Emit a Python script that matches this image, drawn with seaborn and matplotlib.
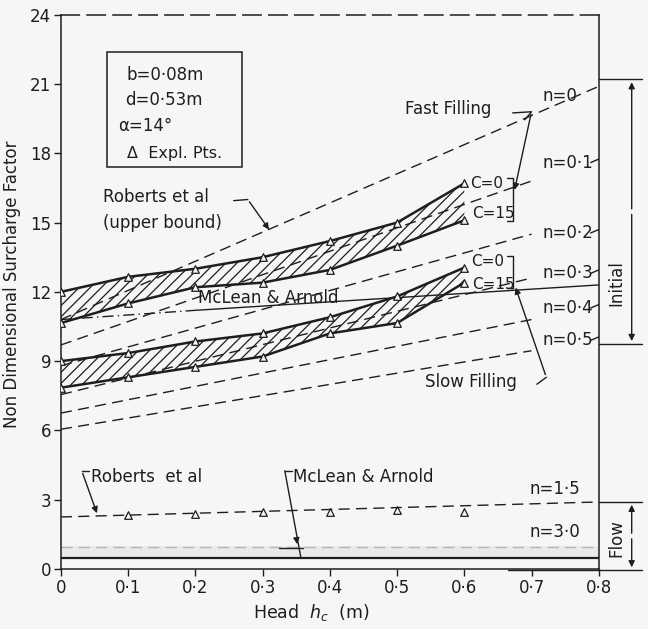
import numpy as np
import pandas as pd
import matplotlib
matplotlib.use("Agg")
import matplotlib.pyplot as plt
import seaborn as sns
from matplotlib.patches import Rectangle

# values
head = [0.0, 0.1, 0.2, 0.3, 0.4, 0.5, 0.6]
fast_c0 = [12.0, 12.65, 13.0, 13.5, 14.2, 15.0, 16.7]
fast_c15 = [10.65, 11.5, 12.2, 12.4, 12.95, 14.0, 15.1]
slow_c0 = [9.0, 9.35, 9.85, 10.2, 10.9, 11.8, 13.05]
slow_c15 = [7.85, 8.3, 8.75, 9.2, 10.2, 10.65, 12.4]

n_labels = ["n=0", "n=0·1", "n=0·2", "n=0·3", "n=0·4", "n=0·5"]
n_x_end = [0.8, 0.7, 0.7, 0.7, 0.7, 0.7]
n_y_start = [10.8, 9.7, 8.8, 7.55, 6.75, 6.05]
n_y_end = [20.9, 16.8, 14.5, 12.6, 10.8, 9.45]
n_label_y = [20.5, 17.6, 14.55, 12.8, 11.3, 9.9]

mclean_x = [0.0, 0.2, 0.8]
mclean_y = [10.8, 11.2, 12.3]

flow_x = [0.0, 0.8]
n15_y = [2.25, 2.9]
n30_y = [0.97, 0.97]
flow_base_y = [0.48, 0.48]
flow_pts_x = [0.1, 0.2, 0.3, 0.4, 0.5, 0.6]
flow_pts_y = [2.35, 2.38, 2.47, 2.47, 2.55, 2.45]

x_ticks = [0, 0.1, 0.2, 0.3, 0.4, 0.5, 0.6, 0.7, 0.8]
x_tick_labels = ["0", "0·1", "0·2", "0·3", "0·4", "0·5", "0·6", "0·7", "0·8"]
y_ticks = [0, 3, 6, 9, 12, 15, 18, 21, 24]

ink = "#1e1e1e"
bg = "#f6f6f6"

sns.set_theme(style="white")
plt.rcParams["font.family"] = ["DejaVu Sans"]
plt.rcParams["hatch.linewidth"] = 0.9
plt.rcParams["hatch.color"] = ink

fig = plt.figure(figsize=(6.48, 6.29), dpi=100, facecolor=bg)
ax = fig.add_axes([0.094, 0.0955, 0.830, 0.881])
ax.set_facecolor(bg)

dash = (0, (8, 4.5))

# initial surcharge lines
for lab, xe, y0, y1, ly in zip(n_labels, n_x_end, n_y_start, n_y_end, n_label_y):
    sns.lineplot(x=[0.0, xe], y=[y0, y1], ax=ax, color=ink, lw=1.0, linestyle=dash)
    ax.text(0.717, ly, lab, fontsize=12, color=ink, va="center", ha="left")
    if lab != "n=0":
        ax.plot([0.788, 0.8], [ly, ly + 0.15], color=ink, lw=1.0)

sns.lineplot(x=mclean_x[:2], y=mclean_y[:2], ax=ax, color=ink, lw=1.0, linestyle=(0, (8, 3, 1, 3)))
sns.lineplot(x=mclean_x[1:], y=mclean_y[1:], ax=ax, color=ink, lw=1.0)

# hatched experimental bands
bands = [(fast_c0, fast_c15), (slow_c0, slow_c15)]
for top, bot in bands:
    ax.fill_between(head, bot, top, facecolor="none", edgecolor=ink, hatch="///", lw=0)
    for s in (top, bot):
        sns.lineplot(x=head, y=s, ax=ax, color=ink, lw=1.8)
        sns.scatterplot(x=head, y=s, ax=ax, marker="^", color=bg, edgecolor=ink,
                        linewidth=0.9, s=30, zorder=4)

# flow region
ax.fill_between(flow_x, [0.5, 0.5], [1.0, 1.0], color="#e9e9e9", lw=0)
sns.lineplot(x=flow_x, y=n15_y, ax=ax, color=ink, lw=1.0, linestyle=dash)
sns.lineplot(x=flow_x, y=n30_y, ax=ax, color="#b5b5b5", lw=1.0, linestyle=dash)
sns.lineplot(x=flow_x, y=flow_base_y, ax=ax, color=ink, lw=1.6)
sns.scatterplot(x=flow_pts_x, y=flow_pts_y, ax=ax, marker="^", color=bg, edgecolor=ink,
                linewidth=0.9, s=30, zorder=4)
ax.text(0.697, 3.45, "n=1·5", fontsize=12, color=ink, va="center")
ax.text(0.697, 1.6, "n=3·0", fontsize=12, color=ink, va="center")

# parameter box
ax.add_patch(Rectangle((0.068, 17.4), 0.202, 5.0, fill=False, ec=ink, lw=1.1))
ax.text(0.098, 21.4, "b=0·08m", fontsize=12, color=ink, va="center")
ax.text(0.095, 20.3, "d=0·53m", fontsize=12, color=ink, va="center")
ax.text(0.085, 19.2, "α=14°", fontsize=12, color=ink, va="center")
ax.text(0.098, 18.0, "Δ  Expl. Pts.", fontsize=11.5, color=ink, va="center")

# annotations
arrow = dict(arrowstyle="-|>", color=ink, lw=1.0, mutation_scale=9)
ax.text(0.063, 16.1, "Roberts et al", fontsize=12, color=ink, va="center")
ax.text(0.063, 15.0, "(upper bound)", fontsize=12, color=ink, va="center")
ax.plot([0.257, 0.278], [15.95, 16.0], color=ink, lw=1.0)
ax.annotate("", xy=(0.312, 14.6), xytext=(0.278, 16.0), arrowprops=arrow)

ax.text(0.204, 11.75, "McLean & Arnold", fontsize=12, color=ink, va="center")

ax.text(0.512, 19.9, "Fast Filling", fontsize=12, color=ink, va="center")
ax.plot([0.672, 0.70, 0.69], [19.75, 19.8, 19.45], color=ink, lw=1.0)
ax.annotate("", xy=(0.674, 16.3), xytext=(0.70, 19.8), arrowprops=arrow)
ax.text(0.608, 16.7, "C=0", fontsize=11, color=ink, va="center")
ax.text(0.611, 15.4, "C=15", fontsize=11, color=ink, va="center")
ax.plot([0.664, 0.672, 0.672, 0.664], [16.95, 16.95, 15.05, 15.05], color=ink, lw=1.0)

ax.text(0.610, 13.3, "C=0", fontsize=11, color=ink, va="center")
ax.text(0.612, 12.3, "C=15", fontsize=11, color=ink, va="center")
ax.plot([0.664, 0.672, 0.672, 0.664], [13.55, 13.55, 12.15, 12.15], color=ink, lw=1.0)

ax.text(0.541, 8.1, "Slow Filling", fontsize=12, color=ink, va="center")
ax.plot([0.708, 0.722], [8.0, 8.3], color=ink, lw=1.0)
ax.annotate("", xy=(0.675, 12.3), xytext=(0.722, 8.3), arrowprops=arrow)

ax.text(0.045, 4.0, "Roberts  et al", fontsize=12, color=ink, va="center")
ax.plot([0.042, 0.031], [4.25, 4.25], color=ink, lw=1.0)
ax.annotate("", xy=(0.055, 2.3), xytext=(0.031, 4.25), arrowprops=arrow)

ax.text(0.345, 4.0, "McLean & Arnold", fontsize=12, color=ink, va="center")
ax.plot([0.344, 0.333], [4.25, 4.25], color=ink, lw=1.0)
ax.plot([0.333, 0.357], [4.25, 0.48], color=ink, lw=1.0)
ax.annotate("", xy=(0.352, 0.95), xytext=(0.350, 1.4), arrowprops=arrow)
ax.plot([0.325, 0.36], [0.92, 0.92], color=ink, lw=1.0)

# right-hand brackets
for y0, y1, xl, lab, ly in [(9.75, 21.2, 0.8, "Initial", 12.4), (-0.05, 2.9, 0.665, "Flow", 1.35)]:
    ax.plot([0.8, 0.865], [y1, y1], color=ink, lw=1.0, clip_on=False)
    ax.plot([xl, 0.865], [y0, y0], color=ink, lw=1.0, clip_on=False)
    ax.annotate("", xy=(0.849, y1), xytext=(0.849, (y0 + y1) / 2), arrowprops=arrow,
                annotation_clip=False)
    ax.annotate("", xy=(0.849, y0), xytext=(0.849, (y0 + y1) / 2), arrowprops=arrow,
                annotation_clip=False)
    ax.text(0.826, ly, lab, rotation=90, fontsize=12, color=ink, ha="center", va="center")

ax.set_xlim(0, 0.8)
ax.set_ylim(0, 24)
ax.set_xticks(x_ticks)
ax.set_xticklabels(x_tick_labels)
ax.set_yticks(y_ticks)
ax.tick_params(axis="both", direction="out", length=5, width=1.0, color=ink,
               labelsize=12, labelcolor=ink, bottom=True, left=True, pad=2)
for side in ["left", "bottom", "right", "top"]:
    ax.spines[side].set_color(ink)
    ax.spines[side].set_linewidth(1.1)
ax.spines["top"].set_linestyle((0, (12, 5)))

ax.set_xlabel("Head  $h_c$  (m)", fontsize=12.5, color=ink)
ax.set_ylabel("Non Dimensional Surcharge Factor", fontsize=12, color=ink)
ax.xaxis.set_label_coords(0.465, -0.06)
ax.yaxis.set_label_coords(-0.075, 0.513)

fig.savefig("out.png", dpi=100, facecolor=bg)
